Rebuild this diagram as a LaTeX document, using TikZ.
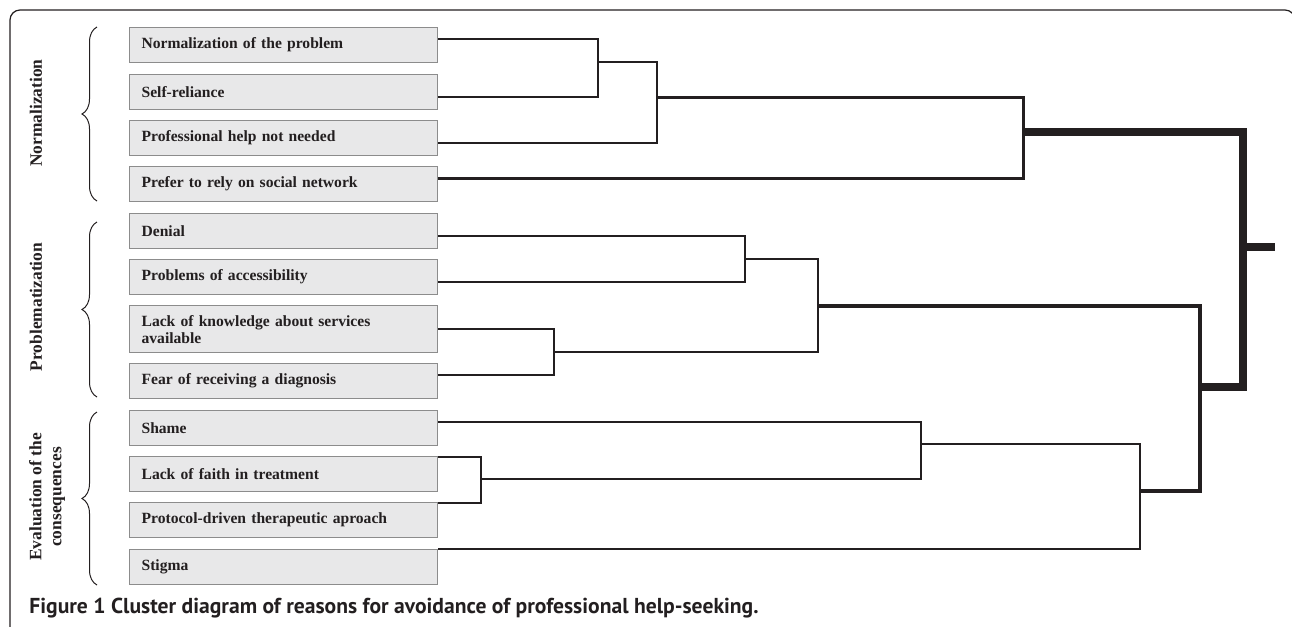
\documentclass[tikz,border=0pt]{standalone}
\usepackage{fontspec}
\setmainfont{Liberation Serif}
\newfontfamily\capfont{PT Sans}
\usepackage{xcolor}
\usepackage{tikz}
\usetikzlibrary{calc,decorations.pathreplacing}

\definecolor{inkdark}{HTML}{231F20}
\definecolor{boxfill}{HTML}{E8E8E9}
\definecolor{boxline}{HTML}{8C8C8C}

\tikzset{
  reason/.style={draw=boxline, fill=boxfill, line width=0.6pt, anchor=north west,
    minimum width=154pt, minimum height=17.5pt, text width=142pt, inner xsep=5.5pt,
    align=left, text=inkdark, font=\fontsize{7.8}{8.5}\selectfont\bfseries},
  group/.style={rotate=90, align=center, text=inkdark,
    font=\fontsize{8.7}{10}\selectfont\bfseries},
  curly/.style={draw=inkdark, line width=0.5pt,
    decorate, decoration={brace, amplitude=7.5pt}},
  link/.style={draw=inkdark, line join=miter},
  wa/.style={link, line width=0.7pt},
  wb/.style={link, line width=1pt},
  wc/.style={link, line width=1.5pt},
  wd/.style={link, line width=2pt},
  wroot/.style={link, line width=3.8pt}
}

\begin{document}
\begin{tikzpicture}[x=0.5pt, y=-0.5pt]
  \useasboundingbox (0,0) rectangle (1292,627);

  % outer frame
  \draw[inkdark, line width=0.6pt, rounded corners=5pt] (10,640) -- (10,10) -- (1295,10) -- (1295,640);

  % reasons
  \node[reason] (n1) at (129,27) {Normalization of the problem};
  \node[reason] (n2) at (129,74) {Self-reliance};
  \node[reason] (n3) at (129,120) {Professional help not needed};
  \node[reason] (n4) at (129,166) {Prefer to rely on social network};

  \node[reason] (n5) at (129,213) {Denial};
  \node[reason] (n6) at (129,259) {Problems of accessibility};
  \node[reason, minimum height=23.5pt] (n7) at (129,305) {Lack of knowledge about services\\available};
  \node[reason] (n8) at (129,363) {Fear of receiving a diagnosis};

  \node[reason] (n9) at (129,410) {Shame};
  \node[reason] (n10) at (129,456) {Lack of faith in treatment};
  \node[reason] (n11) at (129,502) {Protocol-driven therapeutic aproach};
  \node[reason] (n12) at (129,549) {Stigma};

  % groups
  \node[group] (gnorm) at (36,113) {Normalization};
  \node[group] (gprob) at (36,307) {Problematization};
  \node[group] (geval) at (47,497) {Evaluation of the\\consequences};

  \draw[curly] (97,201) -- (97,27);
  \draw[curly] (97,397) -- (97,222);
  \draw[curly] (97,585) -- (97,412);

  % leaf ends
  \coordinate (l1) at ([yshift=-6pt]n1.north east);
  \coordinate (l2) at ([yshift=-11.5pt]n2.north east);
  \coordinate (l3) at ([yshift=-11.5pt]n3.north east);
  \coordinate (l4) at ([yshift=-6pt]n4.north east);
  \coordinate (l5) at ([yshift=-11.5pt]n5.north east);
  \coordinate (l6) at ([yshift=-11.5pt]n6.north east);
  \coordinate (l7) at ([yshift=-12pt]n7.north east);
  \coordinate (l8) at ([yshift=-6pt]n8.north east);
  \coordinate (l9) at ([yshift=-6pt]n9.north east);
  \coordinate (l10) at ([yshift=-0.5pt]n10.north east);
  \coordinate (l11) at ([yshift=-0.5pt]n11.north east);
  \coordinate (l12) at (n12.north east);

  % merge points
  \coordinate (a1) at (598,62);
  \coordinate (a2) at (657,97);
  \coordinate (a3) at (1023,132);
  \coordinate (b1) at (745,259);
  \coordinate (b2) at (554,352);
  \coordinate (b12) at (818,306);
  \coordinate (b3) at (1200,387);
  \coordinate (c0) at (481,479);
  \coordinate (c1) at (921,444);
  \coordinate (c2) at (1140,491);
  \coordinate (root) at (1243,247);
  \coordinate (rootend) at (1275,247);

  % normalization cluster
  \draw[wa] (l1) -| (a1) |- (l2);
  \draw[wb] (a1) -| (a2) |- (l3);
  \draw[wc] (a2) -| (a3) |- (l4);

  % problematization cluster
  \draw[wa] (l5) -| (b1) |- (l6);
  \draw[wa] (l7) -| (b2) |- (l8);
  \draw[wb] (b1) -| (b12) |- (b2);

  % evaluation cluster
  \draw[wa] (l10) -| (c0) |- (l11);
  \draw[wa] (l9) -| (c1) |- (c0);
  \draw[wb] (c1) -| (c2) |- (l12);

  % upper levels
  \draw[wd] (b12) -| (b3) |- (c2);
  \draw[wroot] (a3) -| (root) |- (b3);
  \draw[wroot] (root) -- (rootend);

  % caption
  \node[anchor=base west, inner sep=0pt, text=inkdark,
    font=\capfont\fontsize{10.8}{12}\selectfont\bfseries] (cap) at (29,613)
    {Figure 1 Cluster diagram of reasons for avoidance of professional help-seeking.};
\end{tikzpicture}
\end{document}
